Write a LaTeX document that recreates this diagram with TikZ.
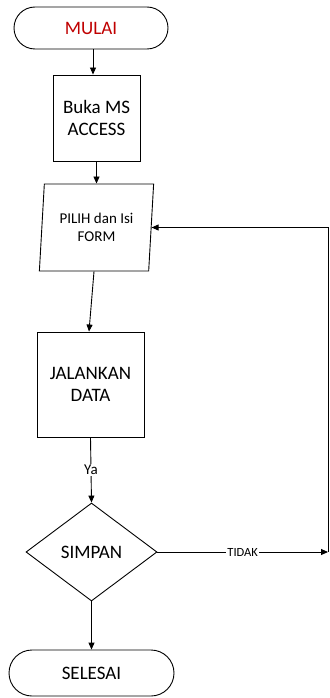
\documentclass[tikz,border=0pt]{standalone}
\usepackage{fontspec}
\setmainfont{Carlito}
\usepackage{tikz}
\usetikzlibrary{shapes.geometric, shapes.misc, arrows.meta, positioning, calc}
\definecolor{FlowRed}{HTML}{C00000}
\definecolor{FlowBlack}{HTML}{000000}
\definecolor{FlowWhite}{HTML}{ffffff}
\tikzset{
    % Start and end boxes
    terminal/.style={
        rounded rectangle,
        draw=FlowBlack,
        fill=FlowWhite,
        line width=0.9pt,
        inner sep=0pt,
        align=center,
        font=\fontsize{19}{22}\selectfont
    },
    process/.style={
        rectangle,
        draw=FlowBlack,
        fill=FlowWhite,
        line width=0.9pt,
        inner sep=0pt,
        align=center,
        font=\fontsize{19}{22}\selectfont
    },
    io/.style={
        trapezium,
        trapezium left angle=83,
        trapezium right angle=97,
        trapezium stretches=true,
        draw=FlowBlack,
        fill=FlowWhite,
        line width=0.9pt,
        inner sep=0pt,
        align=center,
        font=\fontsize{15}{18}\selectfont
    },
    decision/.style={
        diamond,
        draw=FlowBlack,
        fill=FlowWhite,
        line width=0.9pt,
        inner sep=0pt,
        align=center,
        font=\fontsize{19}{22}\selectfont
    },
    arrow style/.style={
        -{Triangle[length=7pt, width=6pt]},
        line width=0.9pt,
        FlowBlack
    },
    line label/.style={
        fill=FlowWhite,
        inner sep=1pt
    }
}
\begin{document}
\begin{tikzpicture}[x=1pt, y=-1pt]
        \useasboundingbox (0, 0) rectangle (329, 698);

        % Start
        \node[terminal, minimum width=154pt, minimum height=42pt, text=FlowRed] (mulai) at (91, 28) {MULAI};

        % Open the program
        \node[process, minimum width=87pt, minimum height=86pt] (buka) at (96.5, 118) {Buka MS\\ACCESS};

        % Form input
        \node[io, minimum width=115pt, minimum height=87pt] (pilih) at (96.5, 227.5) {PILIH dan Isi\\FORM};

        % Run
        \node[process, minimum width=107pt, minimum height=105pt] (jalankan) at (90.5, 384.5) {JALANKAN\\DATA};

        % Save?
        \node[decision, minimum width=131pt, minimum height=98pt] (simpan) at (91.5, 552) {SIMPAN};

        % End
        \node[terminal, minimum width=165pt, minimum height=46pt] (selesai) at (91.5, 673) {SELESAI};

        \coordinate (balik) at (328, 552);

        % Connectors
        \draw[arrow style] ([xshift=2pt]mulai.south) -- ([xshift=-3.5pt]buka.north);
        \draw[arrow style] (buka.south) -- (buka.south |- pilih.north);
        \draw[arrow style] (pilih.bottom side) -- ([xshift=-1.5pt]jalankan.north);
        \draw[arrow style] (jalankan.south) -- node[line label, font=\fontsize{15}{18}\selectfont] {Ya} (simpan.north);
        \draw[arrow style] (simpan.south) -- (selesai.north);
        \draw[arrow style] (simpan.east) -- node[line label, font=\fontsize{12.5}{15}\selectfont] {TIDAK} (balik);
        \draw[arrow style] (balik) |- (pilih.east);
    \end{tikzpicture}
\end{document}
